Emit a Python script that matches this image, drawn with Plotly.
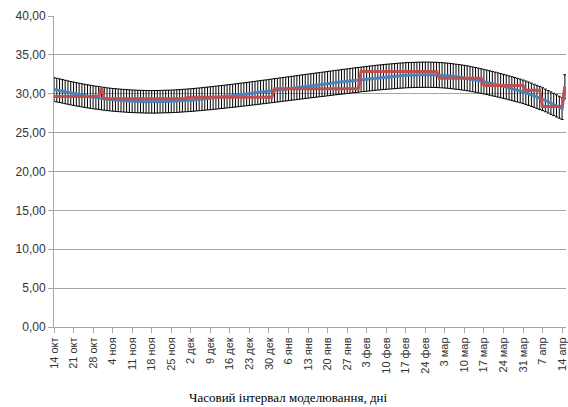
import plotly.graph_objects as go

# Daily modelled value (blue) and measured/aggregated value (red), 14 Oct .. 15 Apr
model_values = [
    30.55, 30.47, 30.39, 30.31, 30.23, 30.15, 30.07,
    30.00, 29.93, 29.86, 29.80, 29.73, 29.67, 29.61,
    29.55, 29.50, 29.45, 29.40, 29.35, 29.30, 29.26,
    29.22, 29.19, 29.16, 29.13, 29.10, 29.08, 29.05,
    29.03, 29.02, 29.00, 28.99, 28.98, 28.97, 28.96,
    28.96, 28.96, 28.97, 28.98, 28.99, 29.00, 29.01,
    29.02, 29.04, 29.06, 29.08, 29.11, 29.13, 29.16,
    29.18, 29.21, 29.25, 29.28, 29.32, 29.35, 29.39,
    29.42, 29.46, 29.50, 29.54, 29.58, 29.62, 29.66,
    29.70, 29.74, 29.78, 29.83, 29.87, 29.91, 29.96,
    30.00, 30.05, 30.09, 30.14, 30.18, 30.23, 30.27,
    30.32, 30.37, 30.42, 30.46, 30.51, 30.56, 30.60,
    30.65, 30.70, 30.74, 30.79, 30.84, 30.89, 30.93,
    30.98, 31.03, 31.07, 31.12, 31.16, 31.21, 31.25,
    31.30, 31.35, 31.39, 31.44, 31.48, 31.53, 31.57,
    31.62, 31.66, 31.71, 31.75, 31.79, 31.84, 31.88,
    31.92, 31.96, 32.00, 32.04, 32.08, 32.11, 32.15,
    32.18, 32.21, 32.24, 32.27, 32.30, 32.33, 32.35,
    32.38, 32.40, 32.41, 32.42, 32.43, 32.44, 32.45,
    32.45, 32.45, 32.44, 32.43, 32.42, 32.40, 32.38,
    32.35, 32.32, 32.28, 32.24, 32.19, 32.15, 32.10,
    32.05, 31.99, 31.92, 31.85, 31.78, 31.70, 31.63,
    31.55, 31.47, 31.39, 31.30, 31.22, 31.13, 31.04,
    30.95, 30.86, 30.76, 30.66, 30.56, 30.46, 30.36,
    30.25, 30.13, 30.00, 29.87, 29.73, 29.59, 29.45,
    29.30, 29.14, 28.97, 28.80, 28.62, 28.44, 28.27,
    28.10, 30.90,
]

observed_values = (
    [29.65] * 17          # 14-30 Oct
    + [30.80]             # 31 Oct
    + [29.35] * 30        # Nov
    + [29.55] * 31        # Dec
    + [30.65] * 31        # Jan
    + [32.85] * 28        # Feb
    + [32.00] * 16        # 1-16 Mar
    + [31.05] * 15        # 17-31 Mar
    + [30.45] * 6         # 1-6 Apr
    + [28.35] * 8         # 7-14 Apr
    + [30.90]             # 15 Apr
)

tick_labels = [
    "14 окт", "21 окт", "28 окт", "4 ноя", "11 ноя", "18 ноя", "25 ноя",
    "2 дек", "9 дек", "16 дек", "23 дек", "30 дек", "6 янв", "13 янв",
    "20 янв", "27 янв", "3 фев", "10 фев", "17 фев", "24 фев", "3 мар",
    "10 мар", "17 мар", "24 мар", "31 мар", "7 апр", "14 апр",
]

error_percent = 5
days = list(range(len(model_values)))
tick_days = days[::7][:len(tick_labels)]

fig = go.Figure()

# error bars (5 %) around the modelled curve
fig.add_trace(go.Scatter(
    x=days, y=model_values, mode="markers",
    marker=dict(size=1, color="rgba(0,0,0,0)"),
    error_y=dict(type="percent", value=error_percent, color="black",
                 thickness=1, width=1.5),
    showlegend=False, hoverinfo="skip",
))
fig.add_trace(go.Scatter(
    x=days, y=model_values, mode="lines",
    line=dict(color="#4f81bd", width=3),
    showlegend=False,
))
fig.add_trace(go.Scatter(
    x=days, y=observed_values, mode="lines",
    line=dict(color="#c0504d", width=3),
    showlegend=False,
))

grid = "#a6a6a6"
fig.update_layout(
    width=568, height=407,
    margin=dict(l=54, r=0, t=16, b=80),
    paper_bgcolor="white", plot_bgcolor="white",
    separators=", ",
    hovermode=False,
    xaxis=dict(
        range=[0, 183.4],
        tickmode="array", tickvals=tick_days, ticktext=tick_labels,
        tickangle=-90,
        ticklabeloverflow="allow",
        tickfont=dict(family="Liberation Sans", size=11, color="#333333"),
        ticks="outside", ticklen=5, tickcolor=grid,
        showgrid=False, zeroline=False,
        showline=True, linecolor=grid, linewidth=1,
    ),
    yaxis=dict(
        range=[0, 40], dtick=5, tickformat=".2f",
        tickfont=dict(family="Liberation Sans", size=12, color="#333333"),
        ticks="outside", ticklen=5, tickcolor=grid,
        showgrid=True, gridcolor=grid, gridwidth=1,
        zeroline=False,
        showline=True, linecolor=grid, linewidth=1,
    ),
    annotations=[dict(
        text="Часовий інтервал моделювання, дні",
        xref="paper", yref="paper", x=0.4586, y=-0.228,
        xanchor="center", yanchor="middle", showarrow=False,
        font=dict(family="Liberation Serif", size=13, color="black"),
    )],
)

fig.write_html("out.html")
